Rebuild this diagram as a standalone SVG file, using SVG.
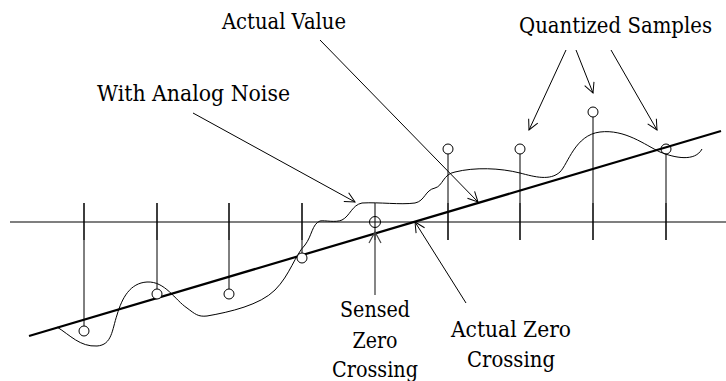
<svg xmlns="http://www.w3.org/2000/svg" width="726" height="381" viewBox="0 0 726 381">
<style>
text{font-family:"DejaVu Serif",serif;font-size:22px;fill:#000}
.c{text-anchor:middle}
.thin{stroke:#000;stroke-width:1;fill:none}
.tick{stroke:#111;stroke-width:1.1;fill:none}
.axis{stroke:#555;stroke-width:1.4;fill:none}
.samp{stroke:#000;stroke-width:1;fill:#fff}
.arrow{stroke:#000;stroke-width:1;fill:none;marker-end:url(#ah)}
</style>
<defs>
<marker id="ah" markerUnits="userSpaceOnUse" markerWidth="14" markerHeight="14" refX="11" refY="6" orient="auto">
<path d="M1,1 L11,6 L1,11" fill="none" stroke="#000" stroke-width="1"/>
</marker>
<marker id="ahg" markerUnits="userSpaceOnUse" markerWidth="16" markerHeight="16" refX="12" refY="7" orient="auto">
<path d="M1,1 L12,7 L1,13" fill="none" stroke="#444" stroke-width="1.2"/>
</marker>
</defs>
<g id="axis">
<line class="axis" x1="10" y1="222" x2="726" y2="222"/>
</g>
<g id="actual-signal">
<line x1="29" y1="336" x2="721" y2="131" stroke="#000" stroke-width="2.2"/>
</g>
<g id="noisy-signal">
<path class="thin" d="M57,327 C70,335 80,347 97,346 C112,345 112,330 117,315 C122,298 130,283 147,282 C165,281 175,300 187,308 C195,314 198,317 207,316 C230,312 260,305 275,290 C290,275 295,255 305,245 C312,236 312,224 320,221 C325,220 335,223 342,220 C350,216 352,205 362,203 C380,202 400,205 415,203 C425,201 425,190 435,188 C443,186 443,174 455,172 C475,167 500,168 520,173 C535,177 550,181 560,172 C568,164 575,135 600,132 C625,129 645,145 660,152 C675,158 695,162 702,149"/>
</g>
<g id="ticks">
<line class="tick" x1="84" y1="203" x2="84" y2="240"/>
<line class="tick" x1="157" y1="203" x2="157" y2="240"/>
<line class="tick" x1="229" y1="203" x2="229" y2="240"/>
<line class="tick" x1="302" y1="203" x2="302" y2="240"/>
<line class="tick" x1="375" y1="203" x2="375" y2="240"/>
<line class="tick" x1="448" y1="203" x2="448" y2="240"/>
<line class="tick" x1="520" y1="203" x2="520" y2="240"/>
<line class="tick" x1="593" y1="203" x2="593" y2="240"/>
<line class="tick" x1="666" y1="203" x2="666" y2="240"/>
</g>
<g id="samples">
<line class="thin" x1="84" y1="203" x2="84" y2="326"/><circle class="samp" cx="84" cy="331" r="5"/>
<line class="thin" x1="157" y1="203" x2="157" y2="289"/><circle class="samp" cx="157" cy="294" r="5"/>
<line class="thin" x1="229" y1="203" x2="229" y2="289"/><circle class="samp" cx="229" cy="294" r="5"/>
<line class="thin" x1="302" y1="203" x2="302" y2="253"/><circle class="samp" cx="302" cy="258" r="5"/>
<circle cx="375" cy="222" r="5.5" fill="none" stroke="#000" stroke-width="1"/>
<line class="thin" x1="448" y1="240" x2="448" y2="154"/><circle class="samp" cx="448" cy="149" r="5"/>
<line class="thin" x1="520" y1="240" x2="520" y2="154"/><circle class="samp" cx="520" cy="149" r="5"/>
<line class="thin" x1="593" y1="240" x2="593" y2="117"/><circle class="samp" cx="593" cy="112" r="5"/>
<line class="thin" x1="666" y1="240" x2="666" y2="154"/><circle cx="666" cy="149" r="5" fill="none" stroke="#000"/>
</g>
<g id="connectors">
<line class="arrow" x1="320" y1="40" x2="478" y2="202"/>
<line class="arrow" x1="193" y1="113" x2="355" y2="202"/>
<line class="arrow" x1="566" y1="50" x2="529" y2="130"/>
<line class="arrow" x1="576" y1="50" x2="593" y2="93"/>
<line class="arrow" x1="611" y1="50" x2="657" y2="130"/>
<line class="arrow" x1="466" y1="303" x2="415" y2="222"/>
<line x1="375" y1="295" x2="375" y2="232" stroke="#444" stroke-width="1.3" marker-end="url(#ahg)"/>
</g>
<g id="label-actual-value"><text x="222" y="29" textLength="124" lengthAdjust="spacingAndGlyphs">Actual Value</text></g>
<g id="label-analog-noise"><text x="97" y="101" textLength="193" lengthAdjust="spacingAndGlyphs">With Analog Noise</text></g>
<g id="label-quantized"><text x="519" y="33" textLength="193" lengthAdjust="spacingAndGlyphs">Quantized Samples</text></g>
<g id="label-sensed">
<text class="c" x="375" y="317" textLength="70" lengthAdjust="spacingAndGlyphs">Sensed</text>
<text class="c" x="375" y="348" textLength="45" lengthAdjust="spacingAndGlyphs">Zero</text>
<text class="c" x="375" y="377" textLength="86" lengthAdjust="spacingAndGlyphs">Crossing</text>
</g>
<g id="label-actual-zero">
<text class="c" x="511" y="337" textLength="120" lengthAdjust="spacingAndGlyphs">Actual Zero</text>
<text class="c" x="511" y="367" textLength="88" lengthAdjust="spacingAndGlyphs">Crossing</text>
</g>
</svg>
